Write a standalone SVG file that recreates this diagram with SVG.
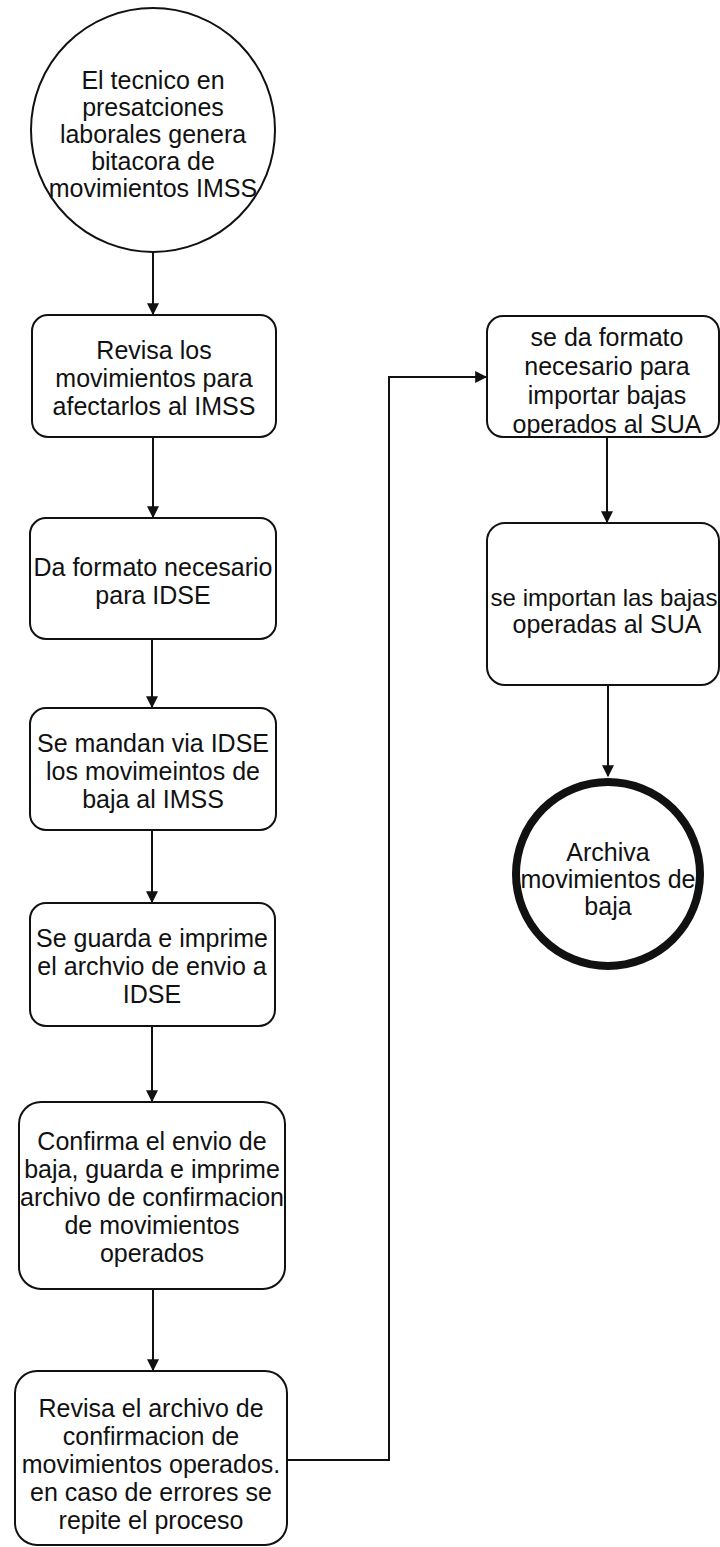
<svg xmlns="http://www.w3.org/2000/svg" width="720" height="1547" viewBox="0 0 720 1547">
<style>
.n{fill:#fff;stroke:#111;stroke-width:2}
.t{font-family:"Liberation Sans",Arial,sans-serif;font-size:25px;fill:#111;text-anchor:middle;dominant-baseline:central}
.c{fill:none;stroke:#111;stroke-width:2}
</style>
<defs>
<marker id="ah" viewBox="0 0 10 10" refX="9" refY="5" markerWidth="6" markerHeight="6" orient="auto" markerUnits="strokeWidth">
<path d="M0,0 L10,5 L0,10 z" fill="#111"/>
</marker>
</defs>
<rect width="720" height="1547" fill="#fff"/>
<g id="connectors">
<path class="c" d="M153,253 V314" marker-end="url(#ah)"/>
<path class="c" d="M153,437 V517" marker-end="url(#ah)"/>
<path class="c" d="M152,639 V707" marker-end="url(#ah)"/>
<path class="c" d="M152,830 V902" marker-end="url(#ah)"/>
<path class="c" d="M152,1026 V1101" marker-end="url(#ah)"/>
<path class="c" d="M153,1289 V1370" marker-end="url(#ah)"/>
<path class="c" d="M287,1460 H389 V377 H486" marker-end="url(#ah)"/>
<path class="c" d="M607,437 V522" marker-end="url(#ah)"/>
<path class="c" d="M608,685 V776" marker-end="url(#ah)"/>
</g>
<g id="start">
<circle class="n" cx="153" cy="130" r="122"/>
<text class="t"><tspan x="153" y="80">El tecnico en</tspan><tspan x="153" y="107">presatciones</tspan><tspan x="153" y="134">laborales genera</tspan><tspan x="153" y="161">bitacora de</tspan><tspan x="153" y="188">movimientos IMSS</tspan></text>
</g>
<g id="n1">
<rect class="n" x="32" y="315" width="244" height="122" rx="16"/>
<text class="t"><tspan x="154" y="350">Revisa los</tspan><tspan x="154" y="378">movimientos para</tspan><tspan x="154" y="406">afectarlos al IMSS</tspan></text>
</g>
<g id="n2">
<rect class="n" x="30" y="518" width="246" height="121" rx="16"/>
<text class="t"><tspan x="153" y="567">Da formato necesario</tspan><tspan x="153" y="595">para IDSE</tspan></text>
</g>
<g id="n3">
<rect class="n" x="30" y="708" width="246" height="122" rx="16"/>
<text class="t"><tspan x="153" y="743">Se mandan via IDSE</tspan><tspan x="153" y="771">los movimeintos de</tspan><tspan x="153" y="799">baja al IMSS</tspan></text>
</g>
<g id="n4">
<rect class="n" x="30" y="903" width="245" height="123" rx="16"/>
<text class="t"><tspan x="152" y="938">Se guarda e imprime</tspan><tspan x="152" y="966">el archvio de envio a</tspan><tspan x="152" y="994">IDSE</tspan></text>
</g>
<g id="n5">
<rect class="n" x="19" y="1102" width="266" height="187" rx="22"/>
<text class="t"><tspan x="152" y="1141">Confirma el envio de</tspan><tspan x="152" y="1169">baja, guarda e imprime</tspan><tspan x="152" y="1197">archivo de confirmacion</tspan><tspan x="152" y="1225">de movimientos</tspan><tspan x="152" y="1253">operados</tspan></text>
</g>
<g id="n6">
<rect class="n" x="15" y="1371" width="272" height="174" rx="22"/>
<text class="t"><tspan x="151" y="1408">Revisa el archivo de</tspan><tspan x="151" y="1436">confirmacion de</tspan><tspan x="151" y="1464">movimientos operados.</tspan><tspan x="151" y="1492">en caso de errores se</tspan><tspan x="151" y="1520">repite el proceso</tspan></text>
</g>
<g id="n7">
<rect class="n" x="487" y="316" width="232" height="121" rx="16"/>
<text class="t"><tspan x="607" y="337">se da formato</tspan><tspan x="607" y="366">necesario para</tspan><tspan x="607" y="395">importar bajas</tspan><tspan x="607" y="424">operados al SUA</tspan></text>
</g>
<g id="n8">
<rect class="n" x="487" y="523" width="232" height="162" rx="18"/>
<text class="t"><tspan x="604" y="597" style="font-size:24px">se importan las bajas</tspan><tspan x="607" y="624">operadas al SUA</tspan></text>
</g>
<g id="end">
<circle cx="608" cy="874" r="92" fill="#fff" stroke="#111" stroke-width="8"/>
<text class="t"><tspan x="608" y="852">Archiva</tspan><tspan x="608" y="879">movimientos de</tspan><tspan x="608" y="906">baja</tspan></text>
</g>
</svg>
